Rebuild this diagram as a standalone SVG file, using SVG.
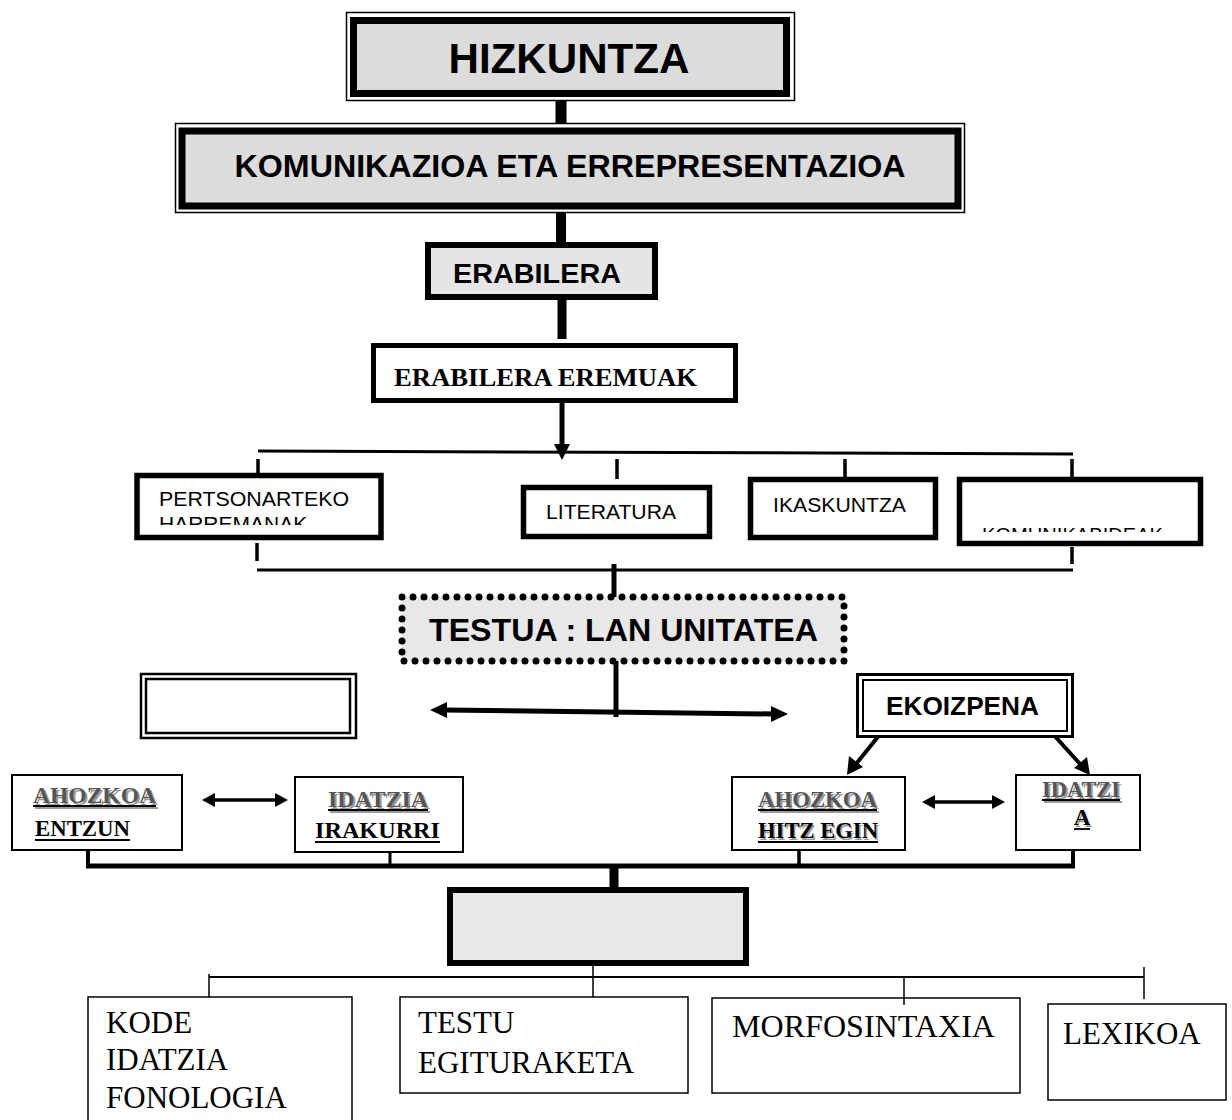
<svg xmlns="http://www.w3.org/2000/svg" width="1232" height="1120" viewBox="0 0 1232 1120">
<style>
.sans{font-family:"Liberation Sans",Arial,sans-serif}
.serif{font-family:"Liberation Serif","Times New Roman",serif}
.b{font-weight:bold}
.thin{fill:none;stroke:#000;stroke-width:1.5}
.thick{stroke:#000;stroke-width:5.5;fill:#fff}
.box2{fill:#fff;stroke:#000;stroke-width:2}
.ln{stroke:#000;fill:none}
.hd{fill:#000}
.sh{fill:#9a9a9a}
.ul{stroke:#000;stroke-width:1.8}
.uls{stroke:#9a9a9a;stroke-width:1.8}
</style>
<defs>
<clipPath id="clipH"><rect x="140" y="480" width="238" height="45"/></clipPath>
<clipPath id="clipK"><rect x="962" y="482" width="236" height="50"/></clipPath>
</defs>
<rect width="1232" height="1120" fill="#fff"/>

<g id="connectors">
  <line class="ln" x1="561" y1="100" x2="561" y2="124" stroke-width="11"/>
  <line class="ln" x1="561" y1="212" x2="561" y2="245" stroke-width="10"/>
  <line class="ln" x1="562" y1="300" x2="562" y2="339" stroke-width="9"/>
  <line class="ln" x1="562" y1="403" x2="562" y2="446" stroke-width="5"/>
  <polygon class="hd" points="554,444 570,444 562,460"/>
  <line class="ln" x1="258" y1="451" x2="1073" y2="454" stroke-width="3"/>
  <line class="ln" x1="258" y1="459" x2="258" y2="473" stroke-width="3.5"/>
  <line class="ln" x1="617" y1="459" x2="617" y2="479" stroke-width="3.5"/>
  <line class="ln" x1="845" y1="459" x2="845" y2="477" stroke-width="3.5"/>
  <line class="ln" x1="1072" y1="459" x2="1072" y2="477" stroke-width="3.5"/>
  <line class="ln" x1="257" y1="543" x2="257" y2="561" stroke-width="3.5"/>
  <line class="ln" x1="1072" y1="547" x2="1072" y2="564" stroke-width="3.5"/>
  <line class="ln" x1="257" y1="570" x2="1073" y2="570" stroke-width="3"/>
  <line class="ln" x1="614" y1="564" x2="614" y2="598" stroke-width="5"/>
  <line class="ln" x1="616" y1="661" x2="616" y2="717" stroke-width="5"/>
  <line class="ln" x1="444" y1="710" x2="774" y2="714" stroke-width="5"/>
  <polygon class="hd" points="430,710 447,702 447,718"/>
  <polygon class="hd" points="788,714 771,706 771,722"/>
  <line class="ln" x1="881" y1="733" x2="856" y2="764" stroke-width="4"/>
  <polygon class="hd" points="847,775 849,756 863,767"/>
  <line class="ln" x1="1052" y1="733" x2="1081" y2="765" stroke-width="4"/>
  <polygon class="hd" points="1090,775 1074,768 1087,757"/>
  <line class="ln" x1="212" y1="800" x2="278" y2="800" stroke-width="3.5"/>
  <polygon class="hd" points="202,800 215,793 215,807"/>
  <polygon class="hd" points="288,800 275,793 275,807"/>
  <line class="ln" x1="932" y1="802" x2="995" y2="802" stroke-width="3.5"/>
  <polygon class="hd" points="922,802 935,795 935,809"/>
  <polygon class="hd" points="1005,802 992,795 992,809"/>
  <line class="ln" x1="88" y1="850" x2="88" y2="866" stroke-width="4"/>
  <line class="ln" x1="390" y1="852" x2="390" y2="866" stroke-width="3"/>
  <line class="ln" x1="799" y1="850" x2="799" y2="866" stroke-width="3.5"/>
  <line class="ln" x1="1073" y1="850" x2="1073" y2="866" stroke-width="4"/>
  <line class="ln" x1="86" y1="866" x2="1075" y2="866" stroke-width="5"/>
  <line class="ln" x1="614" y1="866" x2="614" y2="888" stroke-width="9"/>
  <line class="ln" x1="593" y1="965" x2="593" y2="997" stroke-width="1.5"/>
  <line class="ln" x1="209" y1="977" x2="1144" y2="977" stroke-width="2"/>
  <line class="ln" x1="209" y1="974" x2="209" y2="997" stroke-width="1.5"/>
  <line class="ln" x1="904" y1="977" x2="904" y2="1005" stroke-width="1.5"/>
  <line class="ln" x1="1144" y1="967" x2="1144" y2="999" stroke-width="1.5"/>
</g>

<g id="hizkuntza">
  <rect class="thin" x="346.5" y="12.5" width="448" height="88"/>
  <rect x="353.5" y="20.5" width="433" height="73" fill="#dcdcdc" stroke="#000" stroke-width="7"/>
  <text class="sans b" x="569" y="73" font-size="42" text-anchor="middle" textLength="241" lengthAdjust="spacingAndGlyphs">HIZKUNTZA</text>
</g>

<g id="komunikazioa">
  <rect class="thin" x="175.5" y="123.5" width="789" height="89"/>
  <rect x="182" y="131" width="776" height="75" fill="#dcdcdc" stroke="#000" stroke-width="7"/>
  <text class="sans b" x="570" y="177" font-size="31" text-anchor="middle" textLength="671" lengthAdjust="spacingAndGlyphs">KOMUNIKAZIOA ETA ERREPRESENTAZIOA</text>
</g>

<g id="erabilera">
  <rect x="428" y="245" width="227" height="52" fill="#e6e6e6" stroke="#000" stroke-width="6"/>
  <text class="sans b" x="453" y="283" font-size="28" textLength="168" lengthAdjust="spacingAndGlyphs">ERABILERA</text>
</g>

<g id="erabilera-eremuak">
  <rect x="373.5" y="345.5" width="362" height="55" fill="#fff" stroke="#000" stroke-width="5"/>
  <text class="serif b" x="394" y="386" font-size="26" textLength="303" lengthAdjust="spacingAndGlyphs">ERABILERA EREMUAK</text>
</g>

<g id="pertsonarteko">
  <rect class="thick" x="137" y="475.5" width="244" height="62"/>
  <text class="sans" x="159" y="506" font-size="21" textLength="190" lengthAdjust="spacingAndGlyphs">PERTSONARTEKO</text>
  <text class="sans" x="159" y="531" font-size="21" clip-path="url(#clipH)">HARREMANAK</text>
</g>

<g id="literatura">
  <rect class="thick" x="523.5" y="487.5" width="186" height="49"/>
  <text class="sans" x="546" y="519" font-size="20" textLength="130" lengthAdjust="spacingAndGlyphs">LITERATURA</text>
</g>

<g id="ikaskuntza">
  <rect class="thick" x="750.5" y="479.5" width="185" height="58"/>
  <text class="sans" x="773" y="512" font-size="20" textLength="133" lengthAdjust="spacingAndGlyphs">IKASKUNTZA</text>
</g>

<g id="komunikabideak">
  <rect class="thick" x="959.5" y="479.5" width="241" height="64"/>
  <text class="sans" x="982" y="542" font-size="20" textLength="181" lengthAdjust="spacingAndGlyphs" clip-path="url(#clipK)">KOMUNIKABIDEAK</text>
</g>

<g id="testua">
  <rect x="402" y="597" width="442" height="64" fill="#e8e8e8"/>
  <rect x="402" y="597" width="442" height="64" fill="none" stroke="#000" stroke-width="7" stroke-linecap="round" stroke-dasharray="0 11"/>
  <text class="sans b" x="429" y="641" font-size="32" textLength="389" lengthAdjust="spacingAndGlyphs">TESTUA : LAN UNITATEA</text>
</g>

<g id="empty-left">
  <rect x="141" y="674" width="215" height="64" fill="#fff" stroke="#000" stroke-width="2.5"/>
  <rect x="146" y="679" width="204" height="54" fill="none" stroke="#000" stroke-width="2.5"/>
</g>

<g id="ekoizpena">
  <rect x="857.5" y="674.5" width="215" height="62" fill="#fff" stroke="#000" stroke-width="3"/>
  <rect x="863" y="680" width="204" height="51" fill="none" stroke="#000" stroke-width="2"/>
  <text class="sans b" x="886" y="715" font-size="25" textLength="153" lengthAdjust="spacingAndGlyphs">EKOIZPENA</text>
</g>

<g id="ahozkoa-entzun">
  <rect class="box2" x="12" y="775" width="170" height="75"/>
  <g transform="translate(2,2)">
    <text class="serif b sh" x="33" y="803" font-size="23" textLength="123" lengthAdjust="spacingAndGlyphs">AHOZKOA</text>
    <line class="uls" x1="33" y1="806" x2="156" y2="806"/>
  </g>
  <text class="serif b" x="33" y="803" font-size="23" fill="#555" textLength="123" lengthAdjust="spacingAndGlyphs">AHOZKOA</text>
  <line class="ul" x1="33" y1="806" x2="156" y2="806"/>
  <text class="serif b" x="35" y="836" font-size="23" textLength="95" lengthAdjust="spacingAndGlyphs">ENTZUN</text>
  <line class="ul" x1="35" y1="840" x2="130" y2="840"/>
</g>

<g id="idatzia-irakurri">
  <rect class="box2" x="295" y="777" width="168" height="75"/>
  <g transform="translate(2,2)">
    <text class="serif b sh" x="328" y="807" font-size="23" textLength="100" lengthAdjust="spacingAndGlyphs">IDATZIA</text>
    <line class="uls" x1="328" y1="810" x2="428" y2="810"/>
  </g>
  <text class="serif b" x="328" y="807" font-size="23" fill="#555" textLength="100" lengthAdjust="spacingAndGlyphs">IDATZIA</text>
  <line class="ul" x1="328" y1="810" x2="428" y2="810"/>
  <text class="serif b" x="315" y="838" font-size="23" textLength="125" lengthAdjust="spacingAndGlyphs">IRAKURRI</text>
  <line class="ul" x1="315" y1="842" x2="440" y2="842"/>
</g>

<g id="ahozkoa-hitz-egin">
  <rect class="box2" x="732" y="777" width="173" height="73"/>
  <g transform="translate(2,2)">
    <text class="serif b sh" x="758" y="807" font-size="23" textLength="119" lengthAdjust="spacingAndGlyphs">AHOZKOA</text>
    <line class="uls" x1="758" y1="810" x2="877" y2="810"/>
  </g>
  <text class="serif b" x="758" y="807" font-size="23" fill="#555" textLength="119" lengthAdjust="spacingAndGlyphs">AHOZKOA</text>
  <line class="ul" x1="758" y1="810" x2="877" y2="810"/>
  <g transform="translate(1.5,1.5)">
    <text class="serif b sh" x="758" y="838" font-size="23" textLength="120" lengthAdjust="spacingAndGlyphs">HITZ EGIN</text>
  </g>
  <text class="serif b" x="758" y="838" font-size="23" textLength="120" lengthAdjust="spacingAndGlyphs">HITZ EGIN</text>
  <line class="ul" x1="758" y1="842" x2="878" y2="842"/>
</g>

<g id="idatzia-right">
  <rect class="box2" x="1016" y="775" width="124" height="75"/>
  <g transform="translate(2,2)">
    <text class="serif b sh" x="1042" y="797" font-size="23" textLength="78" lengthAdjust="spacingAndGlyphs">IDATZI</text>
    <line class="uls" x1="1042" y1="800" x2="1120" y2="800"/>
  </g>
  <text class="serif b" x="1042" y="797" font-size="23" fill="#555" textLength="78" lengthAdjust="spacingAndGlyphs">IDATZI</text>
  <line class="ul" x1="1042" y1="800" x2="1120" y2="800"/>
  <g transform="translate(1.5,1.5)">
    <text class="serif b sh" x="1082" y="825" font-size="23" text-anchor="middle">A</text>
  </g>
  <text class="serif b" x="1082" y="825" font-size="23" text-anchor="middle">A</text>
  <line class="ul" x1="1074" y1="829" x2="1090" y2="829"/>
</g>

<g id="gray-box">
  <rect x="450" y="890" width="296" height="73" fill="#e8e8e8" stroke="#000" stroke-width="6"/>
</g>

<g id="kode">
  <rect class="thin" x="88" y="997" width="264" height="130" fill="#fff"/>
  <text class="serif" x="106" y="1033" font-size="31">KODE</text>
  <text class="serif" x="106" y="1070" font-size="31">IDATZIA</text>
  <text class="serif" x="106" y="1108" font-size="31">FONOLOGIA</text>
</g>

<g id="testu">
  <rect class="thin" x="400" y="997" width="288" height="96" fill="#fff"/>
  <text class="serif" x="418" y="1033" font-size="31">TESTU</text>
  <text class="serif" x="418" y="1073" font-size="31">EGITURAKETA</text>
</g>

<g id="morfosintaxia">
  <rect class="thin" x="712" y="998" width="308" height="95" fill="#fff"/>
  <text class="serif" x="732" y="1037" font-size="31" textLength="263" lengthAdjust="spacingAndGlyphs">MORFOSINTAXIA</text>
</g>

<g id="lexikoa">
  <rect class="thin" x="1048" y="1004" width="178" height="96" fill="#fff"/>
  <text class="serif" x="1063" y="1044" font-size="31">LEXIKOA</text>
</g>
</svg>
